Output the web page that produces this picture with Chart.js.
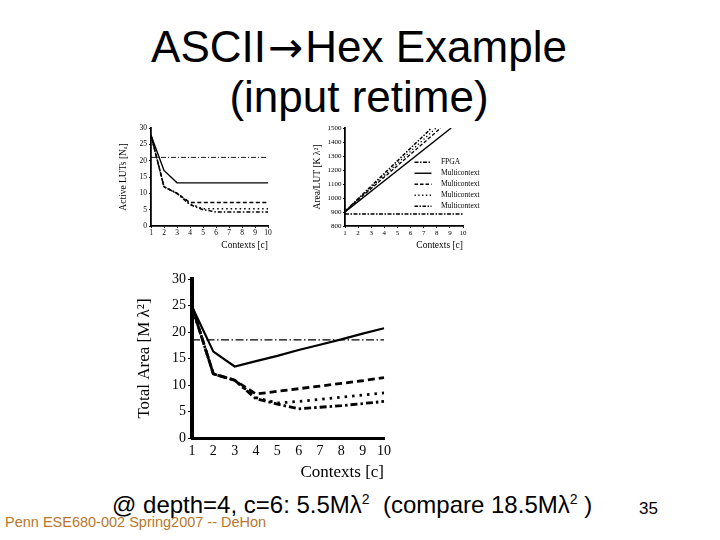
<!DOCTYPE html>
<html><head><meta charset="utf-8">
<script src="https://cdn.jsdelivr.net/npm/chart.js@4.4.1/dist/chart.umd.min.js"></script>
<style>
html,body{margin:0;padding:0;background:#fff;}
body{width:720px;height:540px;position:relative;overflow:hidden;font-family:"Liberation Sans",Arial,sans-serif;color:#000;}
.box{position:absolute;}
#title{position:absolute;left:0;top:22px;width:718px;text-align:center;font-size:44px;line-height:50px;}
#title .arr{font-family:"DejaVu Sans",sans-serif;font-size:42px;line-height:0;margin:0 2px;}
#note{position:absolute;left:112px;top:491px;font-size:24px;line-height:28px;white-space:nowrap;}
#note sup{font-size:14px;line-height:0;vertical-align:9px;}
#page{position:absolute;left:639px;top:499px;font-size:17px;line-height:20px;}
#footer{position:absolute;left:5px;top:514px;font-size:14.5px;line-height:16px;color:#B8772B;white-space:nowrap;}
</style></head>
<body>
<div id="title">ASCII<span class="arr">→</span>Hex Example<br>(input retime)</div>
<div class="box" style="left:112px;top:120px;width:170px;height:132px;"><canvas id="c1"></canvas></div>
<div class="box" style="left:308px;top:120px;width:172px;height:132px;"><canvas id="c2"></canvas></div>
<div class="box" style="left:411px;top:155px;width:69px;height:120px;overflow:hidden;"><div style="position:relative;width:95px;height:120px;"><canvas id="lg"></canvas></div></div>
<div class="box" style="left:130px;top:265px;width:270px;height:220px;"><canvas id="c3"></canvas></div>
<div id="note">@ depth=4, c=6: 5.5Mλ<sup>2</sup>&nbsp; (compare 18.5Mλ<sup>2</sup> )</div>
<div id="page">35</div>
<div id="footer">Penn ESE680-002 Spring2007 -- DeHon</div>
<script>
// ---- data ----
const contexts = [1, 2, 3, 4, 5, 6, 7, 8, 9, 10];
const seriesNames = ['FPGA', 'Multicontext (l=1)', 'Multicontext (l<=2)', 'Multicontext (l<=3)', 'Multicontext (l<=4)'];

// Active LUTs [Na] vs contexts
const lutsFpga = [21, 21, 21, 21, 21, 21, 21, 21, 21, 21];
const lutsL1   = [27.8, 17, 13.2, 13.2, 13.2, 13.2, 13.2, 13.2, 13.2, 13.2];
const lutsL2   = [27.8, 12, 10, 7.2, 7.2, 7.2, 7.2, 7.2, 7.2, 7.2];
const lutsL3   = [27.8, 12, 10, 6.8, 5.3, 5.3, 5.3, 5.3, 5.3, 5.3];
const lutsL4   = [27.8, 12, 10, 6.5, 5.0, 4.3, 4.3, 4.3, 4.3, 4.3];

// Area/LUT [K lambda^2]: straight lines, start and end points
const areaFpgaX = [1, 10];   const areaFpgaY = [885, 885];
const areaL1X   = [1, 9.1];  const areaL1Y   = [900, 1500];
const areaL2X   = [1, 8.3];  const areaL2Y   = [905, 1500];
const areaL3X   = [1, 7.95]; const areaL3Y   = [905, 1500];
const areaL4X   = [1, 7.6];  const areaL4Y   = [905, 1500];

// Total Area [M lambda^2] vs contexts
const totalFpga = [18.5, 18.5, 18.5, 18.5, 18.5, 18.5, 18.5, 18.5, 18.5, 18.5];
const totalL1   = [24.8, 16.3, 13.5, 14.5, 15.5, 16.6, 17.6, 18.6, 19.7, 20.7];
const totalL2   = [24.8, 12.1, 10.9, 8.3, 8.8, 9.3, 9.8, 10.3, 10.8, 11.4];
const totalL3   = [24.8, 12.1, 10.9, 7.6, 6.6, 6.9, 7.3, 7.7, 8.1, 8.5];
const totalL4   = [24.8, 12.1, 10.9, 7.4, 6.4, 5.5, 5.8, 6.1, 6.5, 6.9];

const yTicks1 = {min: 0, max: 30, step: 5};
const yTicks2 = {min: 800, max: 1500, step: 100};
const yTicks3 = {min: 0, max: 30, step: 5};

// ---- styles ----
const SERIF = '"Liberation Serif", "Times New Roman", serif';
const st1 = [
  {w: 0.9, d: [5, 2, 1, 2]},
  {w: 1.4, d: []},
  {w: 1.5, d: [4, 2.5]},
  {w: 1.5, d: [1.5, 3]},
  {w: 1.5, d: [4, 2, 1.5, 2]}
];
const st2 = [
  {w: 1.5, d: [4, 1.5, 1.5, 1.5]},
  {w: 1.4, d: []},
  {w: 1.3, d: [3.5, 2]},
  {w: 1.3, d: [1.3, 2.5]},
  {w: 1.5, d: [3.5, 1.5, 1.5, 1.5]}
];
const st3 = [
  {w: 1.2, d: [8, 2.5, 1.5, 2.5]},
  {w: 2.2, d: []},
  {w: 2.8, d: [7, 4]},
  {w: 2.8, d: [2.5, 5]},
  {w: 2.8, d: [7, 3, 2.5, 3]}
];

function ds(label, data, s) {
  return {label: label, data: data, borderColor: '#000', backgroundColor: '#000',
          borderWidth: s.w, borderDash: s.d, pointRadius: 0, tension: 0, fill: false,
          borderCapStyle: 'butt', borderJoinStyle: 'miter'};
}
function pts(xs, ys) { return xs.map((x, i) => ({x: x, y: ys[i]})); }
const plain = v => String(v);

function opts(c) {
  return {
    responsive: true, maintainAspectRatio: false, animation: false,
    layout: {padding: {left: 0, right: c.padRight, top: c.padTop, bottom: 0}},
    plugins: {legend: {display: false}, tooltip: {enabled: false}},
    scales: {
      x: Object.assign({
        grid: {display: true, drawOnChartArea: false, drawTicks: c.xTick > 0, tickLength: c.xTick, color: '#000', lineWidth: 1},
        border: {display: true, color: '#000', width: c.xBorder},
        ticks: {color: '#000', font: {family: SERIF, size: c.tickSize}, padding: c.xPad, maxRotation: 0, autoSkip: false},
        title: {display: true, text: 'Contexts [c]', align: 'end', color: '#000',
                font: {family: SERIF, size: c.titleSize}, padding: {top: 0, bottom: c.xTitleBottom}},
        afterFit: s => { s.height = c.xHeight; }
      }, c.xExtra || {}),
      y: {
        min: c.y.min, max: c.y.max,
        grid: {display: true, drawOnChartArea: false, drawTicks: true, tickLength: c.yTick, color: '#000', lineWidth: 1},
        border: {display: true, color: '#000', width: c.yBorder},
        ticks: {stepSize: c.y.step, color: '#000', font: {family: SERIF, size: c.tickSize}, padding: c.yPad, autoSkip: false, callback: plain},
        title: {display: true, text: c.yTitle, color: '#000', font: {family: SERIF, size: c.titleSize}, padding: {top: c.yTitleTop, bottom: 0}},
        afterFit: s => { s.width = c.yWidth; }
      }
    }
  };
}

// Chart 1: Active LUTs
new Chart(document.getElementById('c1'), {
  type: 'line',
  data: {labels: contexts, datasets: [
    ds(seriesNames[0], lutsFpga, st1[0]), ds(seriesNames[1], lutsL1, st1[1]),
    ds(seriesNames[2], lutsL2, st1[2]), ds(seriesNames[3], lutsL3, st1[3]),
    ds(seriesNames[4], lutsL4, st1[4])]},
  options: opts({padRight: 14, padTop: 8, xTick: 2, xBorder: 1.8, yBorder: 1.8, yTick: 2,
    tickSize: 7.5, titleSize: 9.5, xPad: 1, yPad: 2, xTitleBottom: 1, xHeight: 26, yWidth: 39,
    yTitle: 'Active LUTs [Nₐ]', yTitleTop: 6, y: yTicks1})
});

// Chart 2: Area/LUT
new Chart(document.getElementById('c2'), {
  type: 'line',
  data: {datasets: [
    ds(seriesNames[0], pts(areaFpgaX, areaFpgaY), st2[0]), ds(seriesNames[1], pts(areaL1X, areaL1Y), st2[1]),
    ds(seriesNames[2], pts(areaL2X, areaL2Y), st2[2]), ds(seriesNames[3], pts(areaL3X, areaL3Y), st2[3]),
    ds(seriesNames[4], pts(areaL4X, areaL4Y), st2[4])]},
  options: opts({padRight: 17, padTop: 8, xTick: 2, xBorder: 1.8, yBorder: 1.8, yTick: 2,
    tickSize: 7, titleSize: 9.5, xPad: 1, yPad: 1.5, xTitleBottom: 1, xHeight: 26, yWidth: 37,
    yTitle: 'Area/LUT [K λ²]', yTitleTop: 4, y: yTicks2,
    xExtra: {type: 'linear', min: 1, max: 10, ticks: {stepSize: 1, color: '#000', font: {family: SERIF, size: 7}, padding: 1, maxRotation: 0, autoSkip: false}}})
});

// Legend of chart 2 (clipped at the slide edge like the original)
new Chart(document.getElementById('lg'), {
  type: 'line',
  data: {datasets: seriesNames.map((n, i) => ds(n, [], st2[i]))},
  options: {
    responsive: true, maintainAspectRatio: false, animation: false,
    layout: {padding: 0},
    scales: {x: {display: false}, y: {display: false}},
    plugins: {tooltip: {enabled: false}, legend: {display: true, position: 'top', align: 'start',
      labels: {usePointStyle: true, pointStyle: 'line', pointStyleWidth: 17, padding: 3.5, color: '#000',
        font: {family: SERIF, size: 7.5},
        generateLabels: chart => chart.data.datasets.map((d, i) => ({
          text: '   ' + d.label, fillStyle: 'rgba(0,0,0,0)', strokeStyle: '#000', fontColor: '#000',
          lineWidth: d.borderWidth, lineDash: d.borderDash, lineCap: 'butt', pointStyle: 'line',
          hidden: false, datasetIndex: i}))
      }}}
  }
});

// Chart 3: Total Area
new Chart(document.getElementById('c3'), {
  type: 'line',
  data: {labels: contexts, datasets: [
    ds(seriesNames[0], totalFpga, st3[0]), ds(seriesNames[1], totalL1, st3[1]),
    ds(seriesNames[2], totalL2, st3[2]), ds(seriesNames[3], totalL3, st3[3]),
    ds(seriesNames[4], totalL4, st3[4])]},
  options: opts({padRight: 16, padTop: 14, xTick: 0, xBorder: 3, yBorder: 4, yTick: 4,
    tickSize: 14, titleSize: 17, xPad: 5, yPad: 2, xTitleBottom: 2, xHeight: 47, yWidth: 62,
    yTitle: 'Total Area [M λ²]', yTitleTop: 4, y: yTicks3})
});
</script>
</body></html>
